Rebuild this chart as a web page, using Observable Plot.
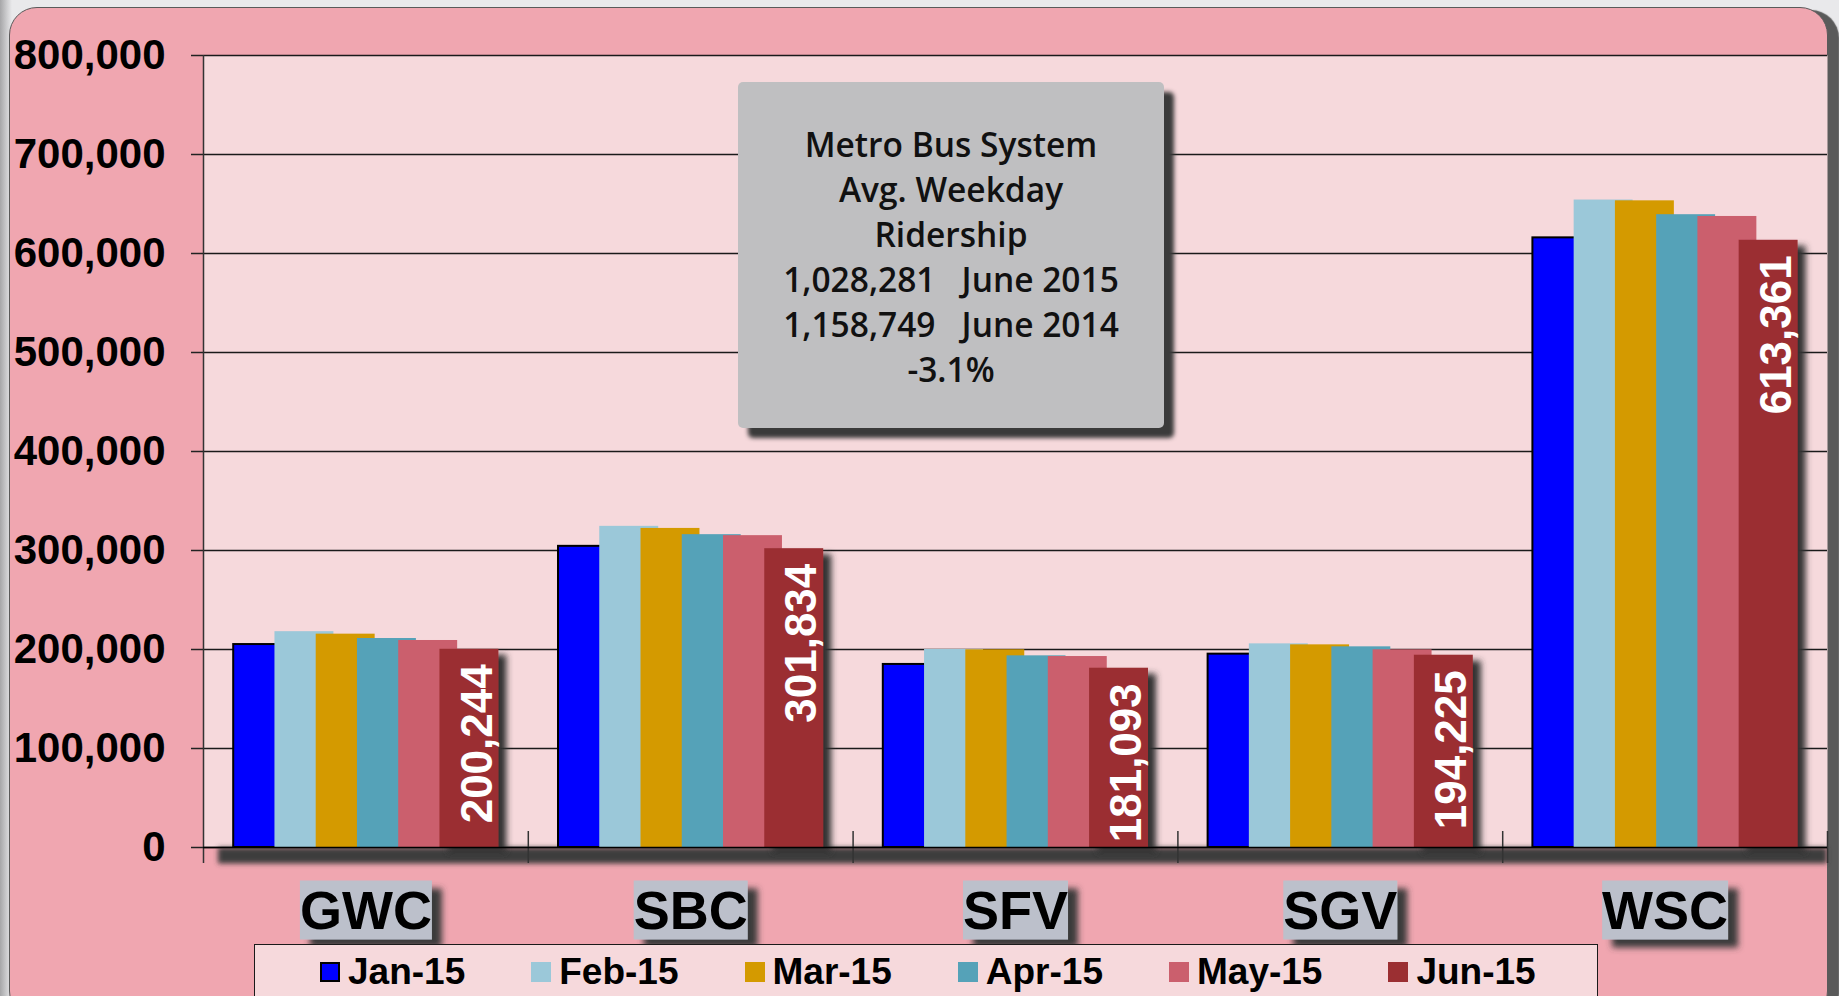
<!DOCTYPE html>
<html>
<head>
<meta charset="utf-8">
<script src="https://cdn.jsdelivr.net/npm/d3@7"></script>
<script src="https://cdn.jsdelivr.net/npm/@observablehq/plot@0.6"></script>
<style>
html,body{margin:0;padding:0;}
body{width:1839px;height:996px;overflow:hidden;background:#e9e9eb;font-family:"Liberation Sans",Arial,sans-serif;}
#stage{position:relative;width:1839px;height:996px;overflow:hidden;
  background:linear-gradient(to right,#a6a6a8 0px,#d4d4d6 8px,#e9e9eb 12px);}
#panel{position:absolute;left:9px;top:7px;width:1817px;height:1010px;background:#f0a6b0;
  border:1.5px solid #5a5a5a;border-radius:28px;box-shadow:11px 3px 1px #5a5a5a;}
#chart{position:absolute;left:0;top:0;}
#info{position:absolute;left:738px;top:82px;width:426px;height:346px;box-sizing:border-box;
  background:#bfbfc1;border-radius:5px;box-shadow:10px 10px 4px #3a3a3a;
  padding-top:40px;text-align:center;font-family:"Open Sans","Noto Sans",sans-serif;
  font-size:33.5px;line-height:45px;color:#111;font-weight:600;white-space:pre;}
#legend{position:absolute;left:254px;top:944px;width:1344px;height:70px;box-sizing:border-box;
  background:#f6d9dc;border:1.5px solid #1a1a1a;padding:5px 0 0 65px;display:flex;}
.item{display:flex;align-items:center;height:43px;margin-right:66px;font-weight:bold;font-size:37px;color:#000;white-space:nowrap;}
.sw{width:20px;height:20px;box-sizing:border-box;margin-right:8px;flex:none;}
</style>
</head>
<body>
<div id="stage">
  <div id="panel"></div>
  <div id="chart"></div>
  <div id="info"></div>
  <div id="legend"></div>
</div>
<script>
// ---- data ----
const categories = ["GWC", "SBC", "SFV", "SGV", "WSC"];
const months = ["Jan-15", "Feb-15", "Mar-15", "Apr-15", "May-15", "Jun-15"];
const jan15 = [205000, 304200, 184900, 195300, 615800];
const feb15 = [218000, 324400, 200000, 205700, 654000];
const mar15 = [215500, 322300, 199700, 204700, 653200];
const apr15 = [211100, 316000, 193600, 202700, 639200];
const may15 = [209100, 315000, 192900, 199700, 637400];
const jun15 = [200244, 301834, 181093, 194225, 613361];
const monthColors = ["#0000ff", "#9bc8d9", "#d49a00", "#55a2b8", "#cb5f6d", "#9b2f32"];
const yTicks = [0, 100000, 200000, 300000, 400000, 500000, 600000, 700000, 800000];
const infoLines = ["Metro Bus System", "Avg. Weekday", "Ridership",
  "1,028,281   June 2015", "1,158,749   June 2014", "-3.1%"];

// ---- table ----
const series = [jan15, feb15, mar15, apr15, may15, jun15];
const rows = [];
series.forEach((vals, m) => vals.forEach((v, c) => rows.push({cat: categories[c], c, m, month: months[m], value: v})));

// bar layout inside each category band (band units)
const PAD = 0.093, STEP = 0.127, W = 0.1815;
const bx1 = d => d.c + PAD + d.m * STEP;
const bx2 = d => d.c + PAD + d.m * STEP + W;
const bounds = d3.range(1, categories.length + 1);
const fmt = d3.format(",");
const tag = name => () => name;   // per-element aria-label, used to find elements afterwards

const barMarks = months.map((mo, j) => Plot.rect(rows.filter(r => r.m === j), {
  x1: bx1, x2: bx2, y1: 0, y2: "value",
  fill: monthColors[j],
  stroke: j === 0 ? "black" : "none", strokeWidth: 2,
  ariaLabel: tag("bars-" + j)
}));

const plot = Plot.plot({
  width: 1839, height: 945,
  marginLeft: 203, marginRight: 12, marginTop: 55, marginBottom: 98,
  style: {background: "transparent", overflow: "visible", color: "black",
    fontFamily: "'Liberation Sans', Arial, sans-serif"},
  x: {domain: [0, categories.length], axis: null},
  y: {domain: [0, 800000], axis: null},
  marks: [
    Plot.frame({fill: "#f6d9dc", stroke: "none"}),
    Plot.gridY(yTicks, {stroke: "#1a1a1a", strokeOpacity: 1, strokeWidth: 1.5}),
    Plot.ruleY([0], {stroke: "#3c3c3c", strokeWidth: 16, dy: 8, insetLeft: 15, ariaLabel: tag("floor-shadow")}),
    Plot.axisY(yTicks, {tickFormat: fmt, tickSize: 12, tickPadding: 26, fontSize: 42,
      fontWeight: "bold", stroke: "#222", strokeWidth: 1.5, label: null}),
    Plot.ruleX(bounds, {x: d => d, y1: 0, y2: 0, insetTop: -16, insetBottom: -16, stroke: "#333", strokeWidth: 1.5}),
    Plot.ruleX([0], {y1: 800000, y2: 0, insetBottom: -16, stroke: "#333", strokeWidth: 1.5}),
    ...barMarks,
    Plot.ruleY([0], {stroke: "black", strokeWidth: 1.5}),
    Plot.text(rows.filter(r => r.m === 5), {
      x: d => d.c + PAD + 5 * STEP + W / 2, y: "value", text: d => fmt(d.value),
      rotate: -90, textAnchor: "end", dy: 15, dx: 8,
      fill: "white", fontSize: 44, fontWeight: "bold"
    }),
    Plot.text(categories, {x: (d, i) => i + 0.5, y: 0, text: d => d, lineAnchor: "bottom",
      dy: 81, fontSize: 54, fontWeight: "bold", fill: "black", ariaLabel: tag("category-label")})
  ]
});
document.getElementById("chart").appendChild(plot);

// ---- effects (shadows) ----
const svg = d3.select(plot);
const defs = svg.insert("defs", ":first-child");
function region(f) {
  return f.attr("filterUnits", "userSpaceOnUse")
    .attr("x", -5000).attr("y", -5000).attr("width", 12000).attr("height", 12000);
}
function shadow(id, dx, dy, sd, color) {
  const f = region(defs.append("filter").attr("id", id));
  f.append("feDropShadow").attr("dx", dx).attr("dy", dy).attr("stdDeviation", sd)
    .attr("flood-color", color).attr("flood-opacity", 1);
}
shadow("barShadow", 8, 6, 3, "#333");
shadow("boxShadow", 10, 8, 3, "#3a3a3a");
const blur = region(defs.append("filter").attr("id", "blur"));
blur.append("feGaussianBlur").attr("stdDeviation", 2.5);

svg.selectAll('[aria-label="bars-5"]').attr("filter", "url(#barShadow)");
svg.selectAll('[aria-label="floor-shadow"]').attr("filter", "url(#blur)");
svg.selectAll('text[aria-label="category-label"]').each(function () {
  const el = this;
  const b = el.getBBox();
  d3.select(el.parentNode).insert("rect", () => el)
    .attr("transform", el.getAttribute("transform"))
    .attr("x", b.x).attr("y", b.y + 1).attr("width", b.width).attr("height", b.height - 1)
    .attr("fill", "#bcc0cb").attr("filter", "url(#boxShadow)");
});

// ---- info box ----
document.getElementById("info").textContent = infoLines.join("\n");

// ---- legend ----
const legend = d3.select("#legend");
months.forEach((m, j) => {
  const it = legend.append("div").attr("class", "item");
  it.append("div").attr("class", "sw").style("background", monthColors[j])
    .style("border", j === 0 ? "2px solid black" : "none");
  it.append("span").text(m);
});
</script>
</body>
</html>
